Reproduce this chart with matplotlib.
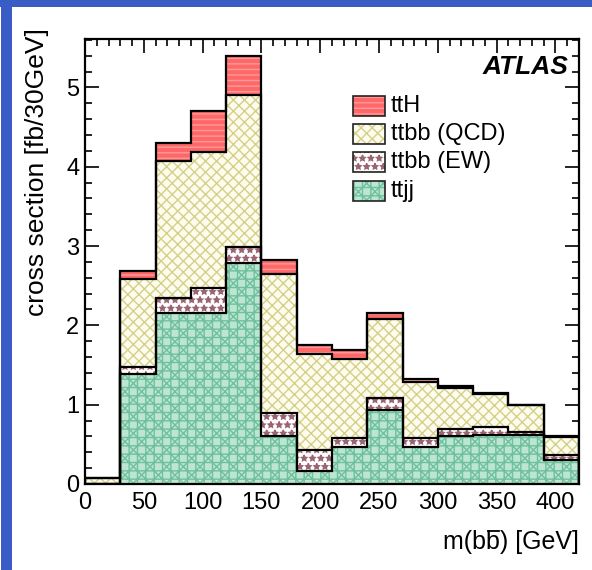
import numpy as np
import matplotlib
matplotlib.use("Agg")
import matplotlib.pyplot as plt
from matplotlib.patches import Rectangle
from matplotlib.lines import Line2D
from matplotlib.ticker import MultipleLocator

plt.rcParams['font.family'] = ['Liberation Sans', 'DejaVu Sans']
plt.rcParams['hatch.linewidth'] = 1.0

# m(bb) binning: 30 GeV bins from 0 to 420 GeV
bin_edges = np.arange(0, 421, 30)

# cross sections per bin [fb/30GeV], stacked bottom to top
ttjj = [0.00, 1.39, 2.16, 2.16, 2.78, 0.61, 0.16, 0.47, 0.93, 0.47, 0.61, 0.62, 0.62, 0.30]
ttbb_ew = [0.00, 0.08, 0.18, 0.31, 0.21, 0.29, 0.27, 0.11, 0.16, 0.11, 0.08, 0.10, 0.04, 0.06]
ttbb_qcd = [0.07, 1.12, 1.73, 1.71, 1.91, 1.75, 1.21, 1.00, 0.99, 0.71, 0.52, 0.42, 0.33, 0.23]
tth = [0.00, 0.09, 0.23, 0.52, 0.50, 0.18, 0.11, 0.11, 0.07, 0.04, 0.03, 0.01, 0.01, 0.01]

series_names = ["ttjj", "ttbb (EW)", "ttbb (QCD)", "ttH"]
series_values = [ttjj, ttbb_ew, ttbb_qcd, tth]

# fill style per component: (face colour, hatch colour, hatch)
styles = {
    "ttjj": ("#bce5d2", "#6fc09c", "++xx"),
    "ttbb (EW)": ("#ffffff", "#9a6470", "**"),
    "ttbb (QCD)": ("#fdfcee", "#d3d088", "xxx"),
    "ttH": ("#ff6868", "#ff9a9a", "---"),
}

W, H = 592, 570
fig = plt.figure(figsize=(W / 100, H / 100), dpi=100)
fig.patch.set_facecolor("white")

# slide frame strips
fig.add_artist(Rectangle((0, 1 - 7 / H), 1, 7 / H, transform=fig.transFigure,
                         facecolor="#3a5cc5", edgecolor="none"))
fig.add_artist(Rectangle((1 / W, 0), 11 / W, 1, transform=fig.transFigure,
                         facecolor="#3a5cc5", edgecolor="none"))

ax = fig.add_axes([85 / W, 1 - 484 / H, 494 / W, 445 / H])

cum_prev = np.zeros(len(ttjj))
levels = []
for name, vals in zip(series_names, series_values):
    fc, hc, hatch = styles[name]
    cum = cum_prev + np.asarray(vals)
    ax.stairs(cum, bin_edges, baseline=cum_prev, fill=True, facecolor=fc,
              edgecolor=hc, hatch=hatch, linewidth=0, zorder=2)
    levels.append(cum)
    cum_prev = cum

for cum in levels:
    ax.stairs(cum, bin_edges, baseline=0, fill=False, color="black",
              linewidth=1.6, zorder=3)

ax.set_xlim(0, 420)
ax.set_ylim(0, 5.61)

ax.xaxis.set_major_locator(MultipleLocator(50))
ax.xaxis.set_minor_locator(MultipleLocator(10))
ax.yaxis.set_major_locator(MultipleLocator(1))
ax.yaxis.set_minor_locator(MultipleLocator(0.2))
ax.tick_params(which="both", direction="in", top=True, right=True, width=1.2,
               labelsize=17)
ax.tick_params(axis="x", which="major", length=10, pad=6)
ax.tick_params(axis="x", which="minor", length=5)
ax.tick_params(axis="y", which="major", length=10, pad=4)
ax.tick_params(axis="y", which="minor", length=5)
for sp in ax.spines.values():
    sp.set_linewidth(1.6)
    sp.set_zorder(4)

# x-axis title with an overline on the second b
xlabel_size = 18
xt = fig.text(579 / W, 1 - 542 / H, "m(bb) [GeV]", ha="right", va="center",
              fontsize=xlabel_size)
renderer = fig.canvas.get_renderer()
full = xt.get_window_extent(renderer)
widths = []
for s in ("m(b", "m(bb"):
    tmp = fig.text(0, 0, s, fontsize=xlabel_size)
    widths.append(tmp.get_window_extent(renderer).width)
    tmp.remove()
bar_x0 = full.x0 + widths[0] + 1.5
bar_x1 = full.x0 + widths[1] - 1.0
bar_y = full.y1 - 1.0
fig.add_artist(Line2D([bar_x0 / W, bar_x1 / W], [bar_y / H, bar_y / H],
                      transform=fig.transFigure, color="black", linewidth=1.3))

fig.text(37 / W, 1 - 28 / H, "cross section [fb/30GeV]", rotation=90,
         ha="center", va="top", fontsize=19)

ax.text(0.978, 0.937, "ATLAS", transform=ax.transAxes, ha="right", va="center",
        fontsize=19, fontweight="bold", fontstyle="italic")

# legend, top entry first
legend_order = ["ttH", "ttbb (QCD)", "ttbb (EW)", "ttjj"]
y0 = 0.850
dy = 0.0637
for i, name in enumerate(legend_order):
    fc, hc, hatch = styles[name]
    yc = y0 - i * dy
    ax.add_patch(Rectangle((0.5425, yc - 0.0225), 0.0648, 0.045,
                           transform=ax.transAxes, facecolor=fc, edgecolor=hc,
                           hatch=hatch, linewidth=0, zorder=5))
    ax.add_patch(Rectangle((0.5425, yc - 0.0225), 0.0648, 0.045,
                           transform=ax.transAxes, facecolor="none",
                           edgecolor="#222222", linewidth=1.2, zorder=6))
    ax.text(0.619, yc, name, transform=ax.transAxes, ha="left", va="center",
            fontsize=17)

fig.savefig("out.png", dpi=100)
